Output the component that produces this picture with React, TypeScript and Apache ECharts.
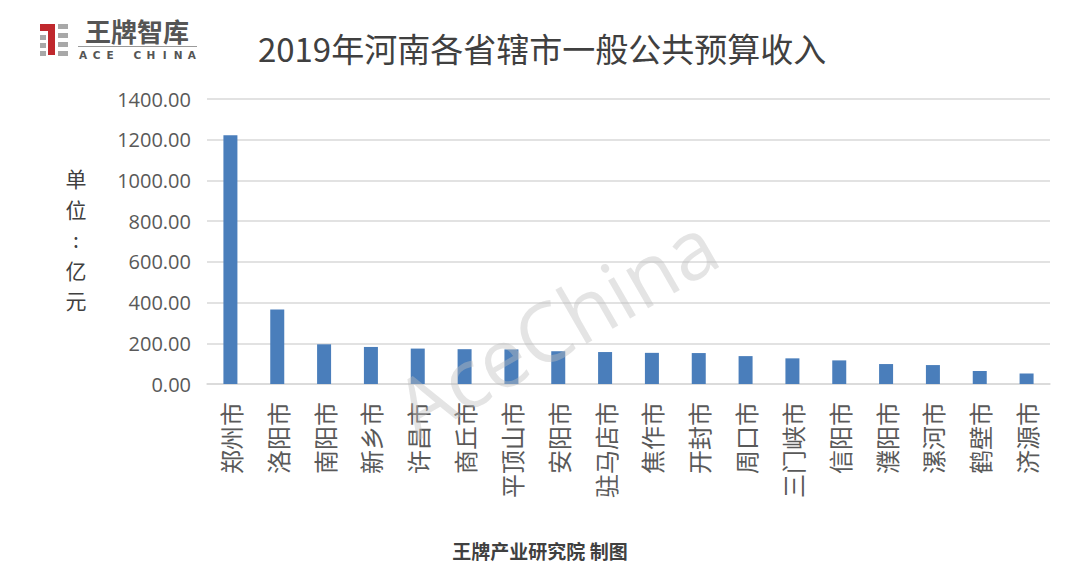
import React, { useEffect, useRef } from "react";
import * as echarts from "echarts";

const categories = ["郑州市", "洛阳市", "南阳市", "新乡市", "许昌市", "商丘市", "平顶山市", "安阳市", "驻马店市", "焦作市", "开封市", "周口市", "三门峡市", "信阳市", "濮阳市", "漯河市", "鹤壁市", "济源市"];
const revenue = [1222.5, 366, 195, 182, 174, 171, 170, 161, 157, 153, 152, 137, 126, 116, 98, 93, 64, 52];
const yTicks = { min: 0, max: 1400, interval: 200 };
const titleText = "2019年河南各省辖市一般公共预算收入";
const unitChars = ["单", "位", ":", "亿", "元"];
const unitCharY = [178, 208.5, 239, 269.5, 300];
const footerText = "王牌产业研究院 制图";
const watermarkText = "AceChina";
const logoCn = "王牌智库";
const logoEn = "ACE CHINA";

const FONT = "'Noto Sans CJK SC', 'Noto Sans', sans-serif";

export default function App() {
  const ref = useRef<HTMLDivElement>(null);
  useEffect(() => {
    if (!ref.current) return;
    const chart = echarts.init(ref.current, undefined, { renderer: "svg" });
    const gray = "#9a9a9a";
    const unitGraphics = unitChars.map((c, i) => ({
      type: "text",
      x: 76,
      y: unitCharY[i],
      style: {
        text: c,
        fontFamily: FONT,
        fontSize: 21,
        lineHeight: 21,
        fill: "#404040",
        align: "center",
        verticalAlign: "middle",
      },
    }));
    const enLetters = logoEn.split("");
    const enGraphics = enLetters.map((c, i) => ({
      type: "text",
      x: 83 + i * 13.6,
      y: 55,
      style: {
        text: c,
        fontFamily: "'DejaVu Sans', sans-serif",
        fontSize: 10.5,
        lineHeight: 10.5,
        fontWeight: "bold",
        fill: "#555555",
        align: "center",
        verticalAlign: "middle",
      },
    }));
    chart.setOption({
      animation: false,
      backgroundColor: "#ffffff",
      title: {
        text: titleText,
        left: 537,
        top: 26,
        textAlign: "center",
        textStyle: { fontFamily: FONT, fontSize: 33, fontWeight: "normal", color: "#404040" },
      },
      grid: { left: 207, right: 30, top: 99, bottom: 200, containLabel: false },
      xAxis: {
        type: "category",
        data: categories,
        axisLine: { show: true, lineStyle: { color: "#d9d9d9", width: 1.5 } },
        axisTick: { show: false },
        axisLabel: {
          rotate: 90,
          margin: 18,
          interval: 0,
          fontFamily: FONT,
          fontSize: 24,
          color: "#595959",
        },
      },
      yAxis: {
        type: "value",
        min: yTicks.min,
        max: yTicks.max,
        interval: yTicks.interval,
        axisLine: { show: false },
        axisTick: { show: false },
        splitLine: { lineStyle: { color: "#d9d9d9", width: 1.5 } },
        axisLabel: {
          formatter: (v: number) => v.toFixed(2),
          fontFamily: "'Open Sans', 'Noto Sans', sans-serif",
          fontSize: 20,
          color: "#595959",
          margin: 16,
        },
      },
      series: [
        {
          type: "bar",
          data: revenue,
          barWidth: 14,
          itemStyle: { color: "#4a7ebb" },
        },
      ],
      graphic: [
        ...unitGraphics,
        {
          type: "text",
          x: 555,
          y: 325,
          rotation: (30 * Math.PI) / 180,
          style: {
            text: watermarkText,
            fontFamily: "'Open Sans', 'Noto Sans', sans-serif",
            fontSize: 82,
            fill: "rgba(190,190,190,0.42)",
            align: "center",
            verticalAlign: "middle",
          },
          z: 100,
        },
        {
          type: "text",
          x: 540,
          y: 550,
          style: {
            text: footerText,
            fontFamily: FONT,
            fontSize: 19,
            fontWeight: "bold",
            fill: "#404040",
            align: "center",
            verticalAlign: "middle",
          },
        },
        // logo
        { type: "rect", shape: { x: 40, y: 24, width: 15, height: 7 }, style: { fill: "#c0282d" } },
        { type: "rect", shape: { x: 48, y: 24, width: 7, height: 31 }, style: { fill: "#c0282d" } },
        { type: "rect", shape: { x: 40, y: 35, width: 6, height: 5 }, style: { fill: "#a8a8a8" } },
        { type: "rect", shape: { x: 40, y: 43, width: 6, height: 5 }, style: { fill: "#a8a8a8" } },
        { type: "rect", shape: { x: 40, y: 51, width: 6, height: 5 }, style: { fill: "#a8a8a8" } },
        { type: "rect", shape: { x: 58, y: 24, width: 10, height: 5 }, style: { fill: "#a8a8a8" } },
        { type: "rect", shape: { x: 58, y: 33, width: 10, height: 5 }, style: { fill: "#a8a8a8" } },
        { type: "rect", shape: { x: 58, y: 42, width: 10, height: 5 }, style: { fill: "#a8a8a8" } },
        { type: "rect", shape: { x: 58, y: 51, width: 10, height: 5 }, style: { fill: "#a8a8a8" } },
        {
          type: "text",
          x: 137,
          y: 30,
          style: { text: logoCn, fontFamily: FONT, fontSize: 26, lineHeight: 26, fontWeight: "bold", fill: "#555555", align: "center", verticalAlign: "middle" },
        },
        { type: "rect", shape: { x: 78, y: 46, width: 119, height: 1 }, style: { fill: gray } },
        ...enGraphics,
      ],
    });
    return () => chart.dispose();
  }, []);
  return <div ref={ref} style={{ width: 1080, height: 584, margin: -8 }} />;
}
